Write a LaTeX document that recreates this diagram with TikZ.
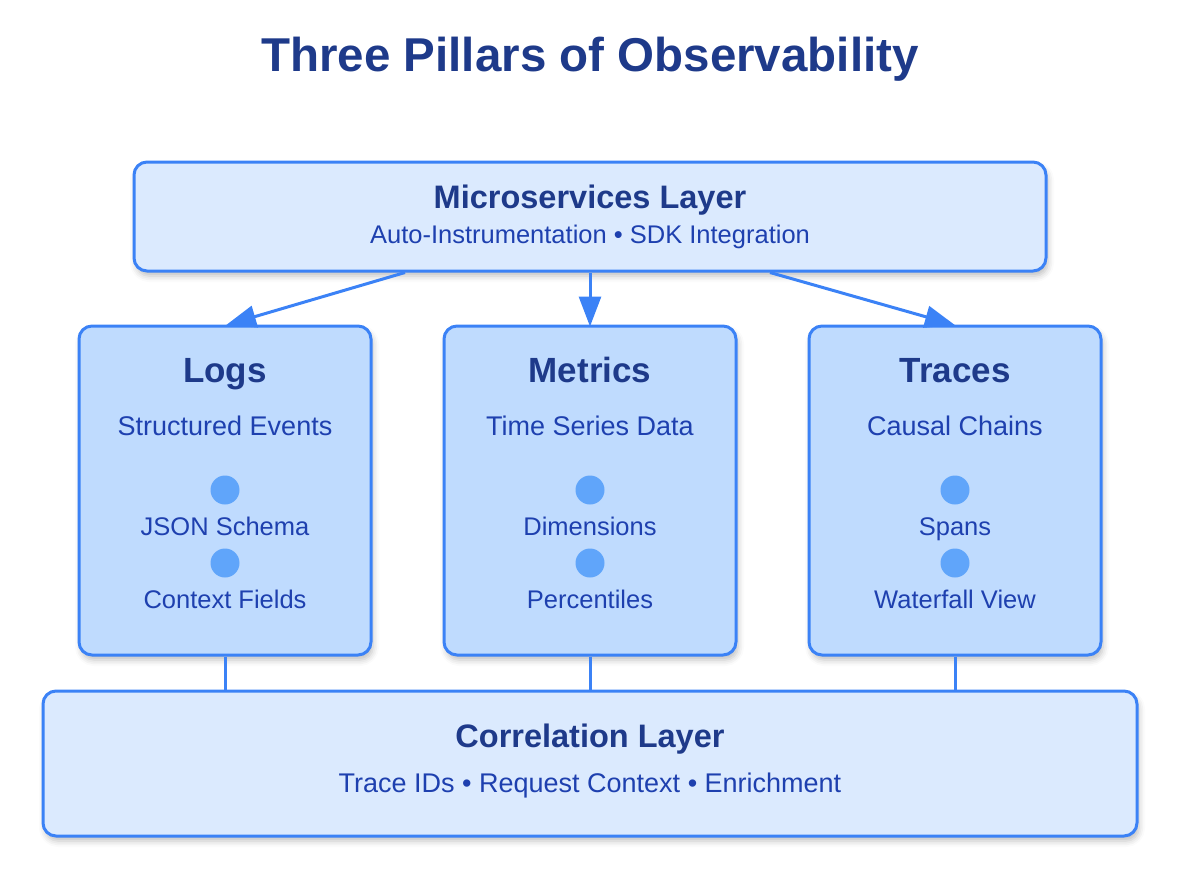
\documentclass[tikz,border=0pt]{standalone}
\usepackage{fontspec}
\setmainfont{Liberation Sans}
\usetikzlibrary{arrows.meta,shadows.blur}
\definecolor{bordc}{HTML}{3B82F6}
\definecolor{lightc}{HTML}{DBEAFE}
\definecolor{pillc}{HTML}{BFDBFE}
\definecolor{darkc}{HTML}{1E3A8A}
\definecolor{subc}{HTML}{1E40AF}
\definecolor{dotc}{HTML}{60A5FA}
\tikzset{
  box/.style={draw=bordc, line width=3pt, rounded corners=13pt, inner sep=0pt,
    blur shadow={shadow xshift=2pt, shadow yshift=-5pt, shadow blur radius=6pt, shadow opacity=25}},
  layerbox/.style={box, fill=lightc},
  pillbox/.style={box, fill=pillc, minimum width=292pt, minimum height=329pt},
  ttl/.style={anchor=base, text=darkc, font=\fontsize{32.5}{36}\selectfont\bfseries},
  ptl/.style={anchor=base, text=darkc, font=\fontsize{35}{40}\selectfont\bfseries},
  sub/.style={anchor=base, text=subc, font=\fontsize{25.5}{30}\selectfont},
  psub/.style={anchor=base, text=subc, font=\fontsize{27}{32}\selectfont},
  item/.style={anchor=base, text=subc, font=\fontsize{25.5}{30}\selectfont},
  dot/.style={circle, fill=dotc, minimum size=29pt, inner sep=0pt},
  conn/.style={draw=bordc, line width=3pt},
  arr/.style={conn, -{Triangle[length=30pt,width=22pt]}, shorten >=-2pt}
}
\begin{document}
\begin{tikzpicture}[x=1pt,y=-1pt]
\useasboundingbox (0,0) rectangle (1186,868);
\node[anchor=base, text=darkc, font=\fontsize{47.5}{52}\selectfont\bfseries] (title) at (590,71) {Three Pillars of Observability};
% Microservices layer
\node[layerbox, minimum width=912pt, minimum height=109pt] (micro) at (590,216.5) {};
\node[ttl] (microt) at (590,208) {Microservices Layer};
\node[sub] (micros) at (590,243) {Auto-Instrumentation • SDK Integration};
% Pillars
\foreach \nm/\cx/\t/\s/\a/\b in {logs/225/Logs/Structured Events/JSON Schema/Context Fields,
  metrics/590/Metrics/Time Series Data/Dimensions/Percentiles,
  traces/955/Traces/Causal Chains/Spans/Waterfall View}{
  \node[pillbox] (\nm) at (\cx,490.5) {};
  \node[ptl] (\nm-t) at (\cx,382) {\t};
  \node[psub] (\nm-s) at (\cx,435) {\s};
  \node[dot] (\nm-d1) at (\cx,490) {};
  \node[item] (\nm-a) at (\cx,535) {\a};
  \node[dot] (\nm-d2) at (\cx,563) {};
  \node[item] (\nm-b) at (\cx,608) {\b};
}
% Correlation layer
\node[layerbox, minimum width=1094pt, minimum height=145pt] (corr) at (590,763.5) {};
\node[ttl] (corrt) at (590,747) {Correlation Layer};
\node[psub] (corrs) at (590,792) {Trace IDs • Request Context • Enrichment};
% Arrows
\draw[arr] ([xshift=-185pt]micro.south) -- ([xshift=3pt]logs.north);
\draw[arr] (micro.south) -- (metrics.north);
\draw[arr] ([xshift=180pt]micro.south) -- ([xshift=-2pt]traces.north);
% Connectors to correlation
\draw[conn] (logs.south) -- (logs.south |- corr.north);
\draw[conn] (metrics.south) -- (metrics.south |- corr.north);
\draw[conn] (traces.south) -- (traces.south |- corr.north);
\end{tikzpicture}
\end{document}
